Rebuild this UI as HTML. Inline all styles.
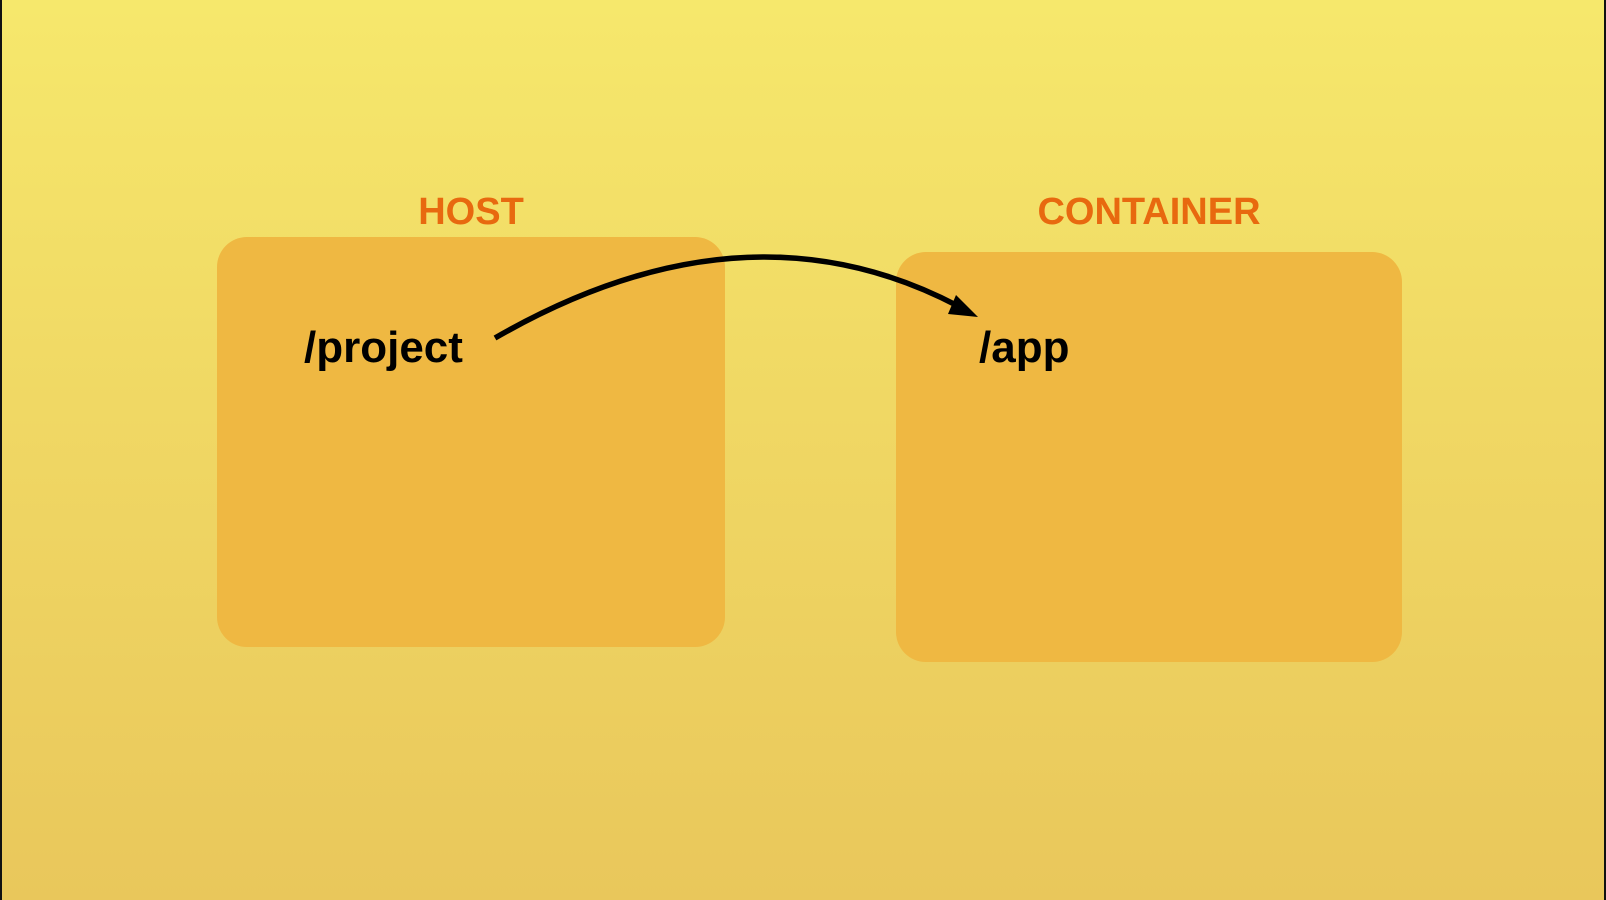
<!DOCTYPE html>
<html><head><meta charset="utf-8"><style>
html,body{margin:0;padding:0}
body{width:1606px;height:900px;overflow:hidden;position:relative;background:linear-gradient(180deg,#f6e86c 0%,#f0d864 45%,#e9c75b 100%);font-family:"Liberation Sans",sans-serif}
.edge{position:absolute;top:0;bottom:0;width:2px;background:#111}
.box{position:absolute;background:#efb842;border-radius:30px}
.lbl{position:absolute;color:#e8690f;font-weight:bold;font-size:38px;line-height:1;transform:translateX(-50%)}
.t{position:absolute;color:#000;font-weight:bold;font-size:44px;line-height:1}
</style></head><body>
<div class="edge" style="left:0"></div>
<div class="edge" style="right:0"></div>
<div class="box" style="left:217px;top:237px;width:508px;height:410px"></div>
<div class="box" style="left:896px;top:252px;width:506px;height:410px"></div>
<div class="lbl" style="left:471px;top:193px">HOST</div>
<div class="lbl" style="left:1149px;top:193px">CONTAINER</div>
<div class="t" style="left:304px;top:326px">/project</div>
<div class="t" style="left:979px;top:326px">/app</div>
<svg width="1606" height="900" style="position:absolute;left:0;top:0">
<path d="M495,338 Q745,194 958,306" fill="none" stroke="#000" stroke-width="5.5"/>
<polygon points="978,317 956,295 948,314" fill="#000"/>
</svg>
</body></html>
